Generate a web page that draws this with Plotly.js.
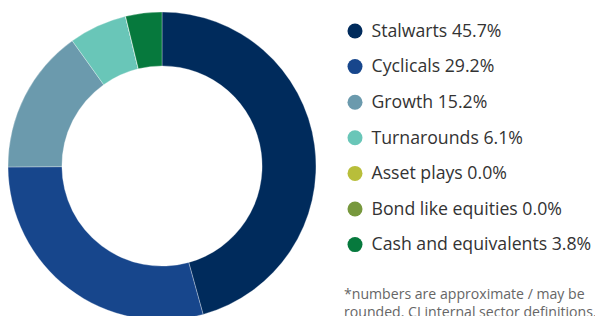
<!DOCTYPE html>
<html><head><meta charset="utf-8">
<script src="https://cdn.plot.ly/plotly-3.0.1.min.js"></script>
<style>html,body{margin:0;padding:0;overflow:hidden;background:#fff;width:595px;height:316px}#c{width:595px;height:320px}</style>
</head><body><div id="c"></div>
<script>
const categories = ["Stalwarts","Cyclicals","Growth","Turnarounds","Asset plays","Bond like equities","Cash and equivalents"];
const values = [45.7, 29.2, 15.2, 6.1, 0.0, 0.0, 3.8];
const colors = ["#002B5C","#17468C","#6B9AAD","#69C6B8","#B8BE3A","#77983D","#06793D"];
const footnote = "*numbers are approximate / may be<br>rounded. CI internal sector definitions.";

const W = 595, H = 320;
const pie = {
  type: "pie", labels: categories, values: values, sort: false, direction: "clockwise", rotation: 0,
  hole: 0.65, textinfo: "none", hoverinfo: "none", showlegend: false,
  marker: {colors: colors, line: {color: "rgba(255,255,255,0.6)", width: 0.5}},
  domain: {x: [8/W, 316/W], y: [0, 1 - 12/H]}
};
const legendLabels = categories.map((c, i) => c + " " + values[i].toFixed(1) + "%");
const idx = categories.map((c, i) => i);
const legMarkers = {
  type: "scatter", mode: "markers", x: idx.map(() => 355), y: idx,
  marker: {size: 15, color: colors}, hoverinfo: "none", showlegend: false, cliponaxis: false
};
const legText = {
  type: "scatter", mode: "text", x: idx.map(() => 371.5), y: idx.map(v => v + 0.04),
  text: legendLabels, textposition: "middle right",
  textfont: {family: "Open Sans", size: 17.7, color: "#333333"},
  hoverinfo: "none", showlegend: false, cliponaxis: false
};
const top0 = 31, step = 35.6;
const layout = {
  width: W, height: H, margin: {l: 0, r: 0, t: 0, b: 0},
  paper_bgcolor: "#fff", plot_bgcolor: "rgba(0,0,0,0)",
  xaxis: {range: [0, W], visible: false, fixedrange: true},
  yaxis: {range: [(H - top0) / step, -top0 / step], visible: false, fixedrange: true},
  annotations: [{
    xref: "paper", yref: "paper", x: 342/W, y: 1 - 282/H, xanchor: "left", yanchor: "top", align: "left",
    text: footnote, showarrow: false, font: {family: "Open Sans", size: 14.1, color: "#666666"}
  }]
};
Plotly.newPlot("c", [pie, legMarkers, legText], layout, {staticPlot: true, displayModeBar: false});
</script></body></html>
